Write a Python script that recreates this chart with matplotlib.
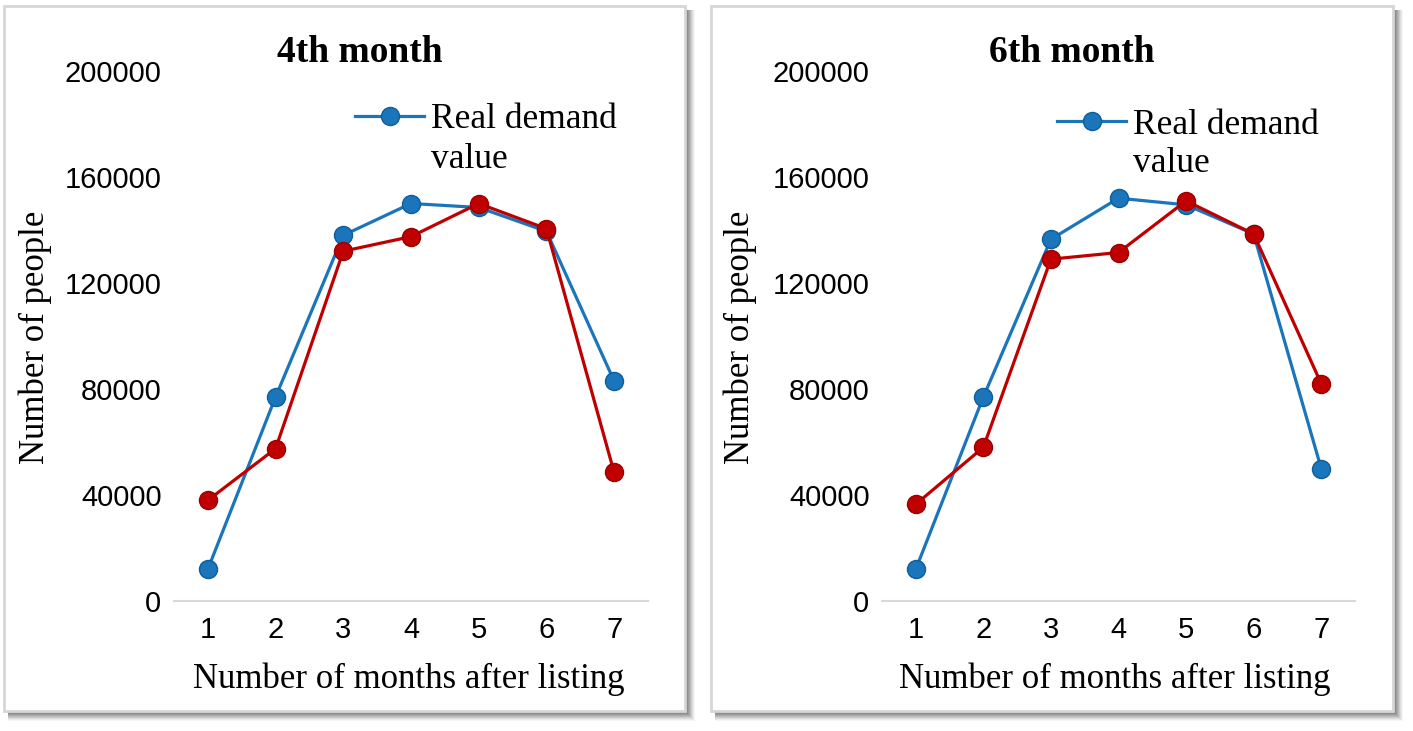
import matplotlib
matplotlib.use("Agg")
import matplotlib.pyplot as plt
from matplotlib.patches import Rectangle
from matplotlib.lines import Line2D

# data
months = [1, 2, 3, 4, 5, 6, 7]
real_4th = [12000, 77000, 138000, 150000, 148500, 139500, 83000]
pred_4th = [38000, 57500, 132000, 137500, 150000, 140500, 48500]
real_6th = [12000, 77000, 136500, 152000, 149500, 138500, 50000]
pred_6th = [36500, 58000, 129000, 131500, 151000, 138500, 82000]
titles = ["4th month", "6th month"]
yticks = [0, 40000, 80000, 120000, 160000, 200000]

BLUE = "#1B75BB"
RED = "#C00000"
W, H = 1413, 731

fig = plt.figure(figsize=(W / 100, H / 100), dpi=100)
fig.patch.set_facecolor("white")


def px_box(x0, y0, x1, y1):
    # pixel box (top-left origin) -> figure fraction
    return [x0 / W, 1 - y1 / H, (x1 - x0) / W, (y1 - y0) / H]


# panel frames with soft shadow
for (x0, y0, x1, y1) in [(4, 6, 685, 711), (711, 6, 1393, 711)]:
    for k, a in zip(range(10, 0, -1), [0.06, 0.08, 0.1, 0.13, 0.16, 0.19, 0.22, 0.25, 0.28, 0.3]):
        l, b, w, h = px_box(x0 + 4, y0 + 4, x1 + k, y1 + k)
        fig.patches.append(Rectangle((l, b), w, h, transform=fig.transFigure,
                                     facecolor="#666666", edgecolor="none", alpha=a, zorder=0))
    l, b, w, h = px_box(x0, y0, x1, y1)
    fig.patches.append(Rectangle((l, b), w, h, transform=fig.transFigure,
                                 facecolor="white", edgecolor="#D6D6D6", lw=2, zorder=0.5))

panels = [
    (px_box(174, 71, 648, 601), real_4th, pred_4th, 360, 409, 35, (355, 120)),
    (px_box(882, 71, 1355, 601), real_6th, pred_6th, 1072, 1115, 740, (1057, 125)),
]

legends = []
for i, (box, real, pred, tx, xlx, ylx, legxy) in enumerate(panels):
    ax = fig.add_axes(box)
    ax.set_zorder(5)
    ax.set_facecolor("none")
    ax.plot(months, real, color=BLUE, lw=2.3, marker="o", ms=13,
            mfc=BLUE, mec="#0E5E99", mew=1, zorder=3, clip_on=False)
    ax.plot(months, pred, color=RED, lw=2.3, marker="o", ms=13,
            mfc=RED, mec="#9A0000", mew=1, zorder=4, clip_on=False)
    ax.set_xlim(0.5, 7.5)
    ax.set_ylim(0, 200000)
    ax.set_xticks(months)
    ax.set_yticks(yticks)
    ax.set_yticklabels([str(v) for v in yticks])
    for s in ["top", "right", "left"]:
        ax.spines[s].set_visible(False)
    ax.spines["bottom"].set_color("#D9D9D9")
    ax.spines["bottom"].set_linewidth(1.5)
    ax.tick_params(length=0, labelsize=21, labelcolor="black")
    ax.tick_params(axis="y", pad=9)
    ax.tick_params(axis="x", pad=11)
    for lab in ax.get_xticklabels() + ax.get_yticklabels():
        lab.set_family("Liberation Sans")

    fig.text(tx / W, 1 - 52 / H, titles[i], ha="center", va="center",
             family="Liberation Serif", weight="bold", fontsize=27, zorder=6)
    fig.text(xlx / W, 1 - 679 / H, "Number of months after listing", ha="center",
             va="center", family="Liberation Serif", fontsize=25, zorder=6)
    fig.text(ylx / W, 1 - 337 / H, "Number of people", ha="center", va="center",
             rotation=90, family="Liberation Serif", fontsize=25, zorder=6)

    handle = Line2D([], [], color=BLUE, lw=2.3, marker="o", ms=13, mfc=BLUE, mec="#0E5E99")
    leg = ax.legend([handle], ["Real demand"], loc="center left",
                    bbox_to_anchor=(legxy[0] / W, 1 - legxy[1] / H),
                    bbox_transform=fig.transFigure, frameon=False,
                    prop={"family": "Liberation Serif", "size": 25.5},
                    handlelength=1.95, handletextpad=0.2, borderpad=0, borderaxespad=0)
    legends.append((leg, legxy))

# second line of the wrapped legend label, aligned under the first
fig.canvas.draw()
renderer = fig.canvas.get_renderer()
for leg, legxy in legends:
    x0 = leg.get_texts()[0].get_window_extent(renderer).x0
    fig.text(x0 / W, 1 - (legxy[1] + 39) / H, "value", ha="left", va="center",
             family="Liberation Serif", fontsize=25.5, zorder=6)

fig.savefig("out.png", dpi=100)
